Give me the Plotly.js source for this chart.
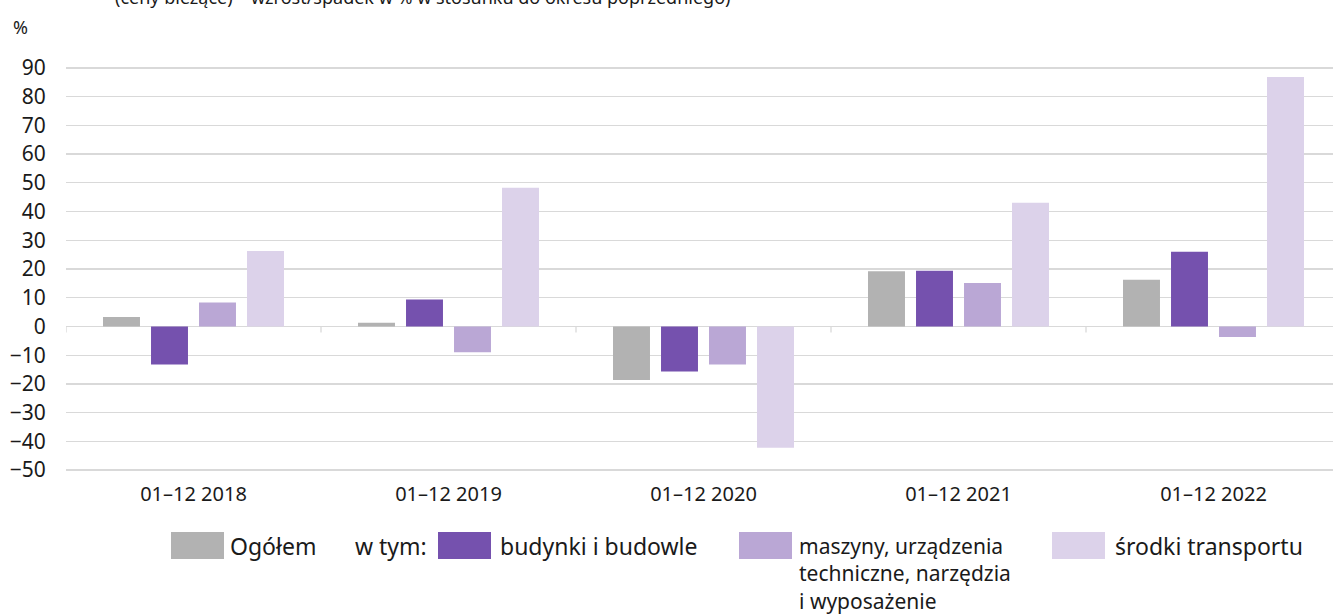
<!DOCTYPE html>
<html>
<head>
<meta charset="utf-8">
<script src="https://cdn.plot.ly/plotly-3.0.1.min.js"></script>
<style>html,body{margin:0;padding:0;background:#fff;}#chart{width:1333px;height:615px;}</style>
</head>
<body>
<div id="chart"></div>
<script>
const categories = ['01–12 2018', '01–12 2019', '01–12 2020', '01–12 2021', '01–12 2022'];
const ogolem = [3.3, 1.3, -18.6, 19.2, 16.3];
const budynki = [-13.2, 9.4, -15.7, 19.4, 26.0];
const maszyny = [8.3, -9.0, -13.2, 15.1, -3.7];
const transport = [26.3, 48.3, -42.2, 43.1, 86.8];
const seriesNames = ['Ogółem', 'budynki i budowle', 'maszyny, urządzenia techniczne, narzędzia i wyposażenie', 'środki transportu'];
const seriesColors = ['#b2b2b2', '#7551ae', '#baa7d5', '#dcd2ea'];
const legendLines = [['Ogółem'], ['budynki i budowle'], ['maszyny, urządzenia', 'techniczne, narzędzia', 'i wyposażenie'], ['środki transportu']];
const titleText = '(ceny bieżące) – wzrost/spadek w % w stosunku do okresu poprzedniego)';
const unitText = '%';
const subLabel = 'w tym:';

const FONT = 'Noto Sans, Open Sans, sans-serif';
const TXT = '#1a1a1a';
const W = 1333, H = 615;
const M = {l: 66, r: 0, t: 65, b: 142};
const PW = W - M.l - M.r, PH = H - M.t - M.b;
const px2x = px => (px - M.l) / PW;
const px2y = py => (H - M.b - py) / PH;

const allSeries = [ogolem, budynki, maszyny, transport];
const traces = allSeries.map((vals, i) => ({
  type: 'bar', x: categories, y: vals, name: seriesNames[i],
  marker: {color: seriesColors[i], line: {width: 0}},
  showlegend: false, hoverinfo: 'x+y+name'
}));

const shapes = [];
// category boundary ticks on the zero line
for (let i = 0; i <= categories.length; i++) {
  shapes.push({type: 'line', xref: 'x', yref: 'y', x0: i - 0.5, x1: i - 0.5, y0: 0, y1: -2.1,
    line: {color: '#d9d9d9', width: 1.3}});
}
const annotations = [];
annotations.push({xref: 'paper', yref: 'paper', x: px2x(113), y: px2y(-3), xanchor: 'left', yanchor: 'middle',
  text: titleText, showarrow: false, font: {family: FONT, size: 18, color: TXT}});
annotations.push({xref: 'paper', yref: 'paper', x: px2x(11), y: px2y(27), xanchor: 'left', yanchor: 'middle',
  text: unitText, showarrow: false, font: {family: FONT, size: 18, color: TXT}});

// custom legend
const boxX = [171, 438, 739, 1052];
const boxW = 53, boxTop = 532, boxBot = 559;
const textX = [228, 498, 797, 1113];
const firstLineY = 546;
boxX.forEach((bx, i) => {
  shapes.push({type: 'rect', xref: 'paper', yref: 'paper', x0: px2x(bx), x1: px2x(bx + boxW),
    y0: px2y(boxBot), y1: px2y(boxTop), fillcolor: seriesColors[i], line: {width: 0}});
  const lines = legendLines[i];
  const fs = lines.length > 1 ? 21 : 23;
  const lh = fs * 1.3;
  annotations.push({xref: 'paper', yref: 'paper', x: px2x(textX[i]), y: px2y(firstLineY + (lines.length - 1) * lh / 2),
    xanchor: 'left', yanchor: 'middle', align: 'left',
    text: lines.join('<br>'), showarrow: false, font: {family: FONT, size: fs, color: TXT}});
});
annotations.push({xref: 'paper', yref: 'paper', x: px2x(353), y: px2y(firstLineY), xanchor: 'left', yanchor: 'middle',
  text: subLabel, showarrow: false, font: {family: FONT, size: 23, color: TXT}});

const layout = {
  width: W, height: H,
  margin: {l: M.l, r: M.r, t: M.t, b: M.b, pad: 0},
  paper_bgcolor: '#fff', plot_bgcolor: '#fff',
  barmode: 'group', bargap: 0.247, bargroupgap: 0.23,
  font: {family: FONT, size: 18, color: TXT},
  xaxis: {type: 'category', range: [-0.5, categories.length - 0.5 - 8 / 255], showgrid: false, zeroline: false,
    showline: false, ticks: 'outside', ticklen: 3, tickcolor: 'rgba(0,0,0,0)',
    tickfont: {family: FONT, size: 20, color: TXT}, fixedrange: true},
  yaxis: {range: [-51, 91], tick0: 0, dtick: 10, showgrid: true, gridcolor: '#d9d9d9', gridwidth: 1.3,
    zeroline: true, zerolinecolor: '#d9d9d9', zerolinewidth: 1.3, showline: false,
    ticks: 'outside', ticklen: 15, tickcolor: 'rgba(0,0,0,0)',
    tickfont: {family: FONT, size: 21, color: TXT}, fixedrange: true},
  shapes: shapes, annotations: annotations, showlegend: false
};
Plotly.newPlot('chart', traces, layout, {displayModeBar: false, staticPlot: true});
</script>
</body>
</html>
